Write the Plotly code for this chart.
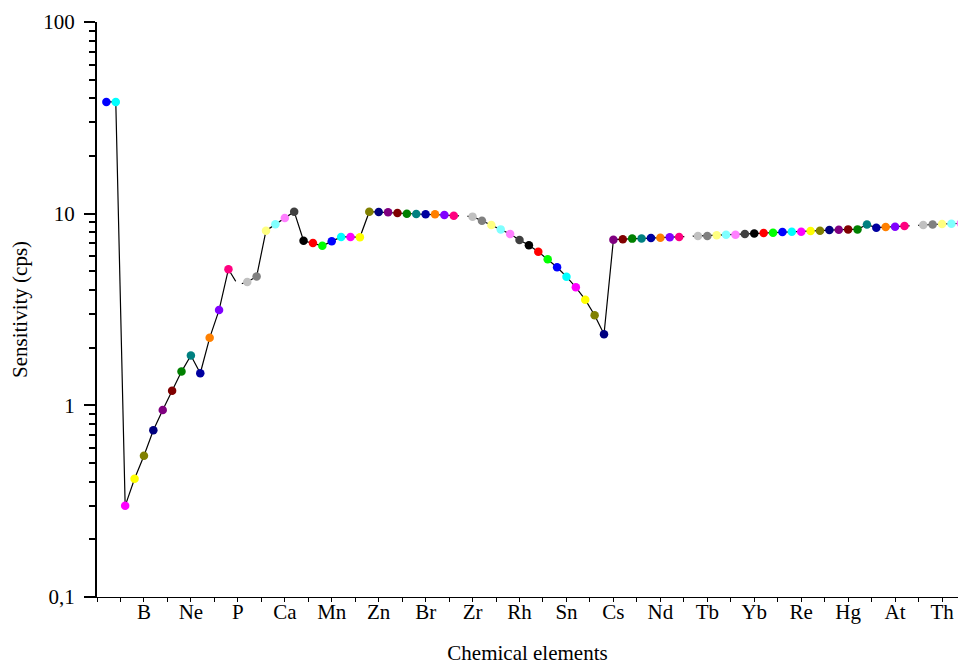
import plotly.graph_objects as go

elements = ["H","He","Li","Be","B","C","N","O","F","Ne","Na","Mg","Al","Si","P","S","Cl","Ar","K","Ca",
            "Sc","Ti","V","Cr","Mn","Fe","Co","Ni","Cu","Zn","Ga","Ge","As","Se","Br","Kr","Rb","Sr","Y","Zr",
            "Nb","Mo","Tc","Ru","Rh","Pd","Ag","Cd","In","Sn","Sb","Te","I","Xe","Cs","Ba","La","Ce","Pr","Nd",
            "Pm","Sm","Eu","Gd","Tb","Dy","Ho","Er","Tm","Yb","Lu","Hf","Ta","W","Re","Os","Ir","Pt","Au","Hg",
            "Tl","Pb","Bi","Po","At","Rn","Fr","Ra","Ac","Th","Pa","U"]
atomic_number = list(range(1, 93))
sensitivity = [38.3, 38.3, 0.299, 0.414, 0.546, 0.741, 0.946, 1.19, 1.50, 1.82,
               1.47, 2.25, 3.14, 5.13, 4.25, 4.40, 4.70, 8.15, 8.80, 9.49,
               10.24, 7.22, 7.03, 6.80, 7.17, 7.56, 7.56, 7.53, 10.24, 10.2,
               10.17, 10.08, 10.0, 9.96, 9.92, 9.92, 9.84, 9.76, 9.7, 9.65,
               9.19, 8.73, 8.28, 7.83, 7.29, 6.84, 6.33, 5.78, 5.25, 4.69,
               4.13, 3.56, 2.95, 2.35, 7.32, 7.36, 7.41, 7.43, 7.46, 7.49,
               7.53, 7.56, 7.6, 7.64, 7.64, 7.71, 7.76, 7.76, 7.83, 7.89,
               7.93, 7.96, 8.02, 8.05, 8.05, 8.12, 8.15, 8.22, 8.25, 8.28,
               8.28, 8.77, 8.45, 8.51, 8.55, 8.62, 8.68, 8.73, 8.77, 8.83,
               8.86, 8.9]

# Origin-style colour increment list (cycled per point)
palette = ["#000000", "#FF0000", "#00FF00", "#0000FF", "#00FFFF", "#FF00FF", "#FFFF00", "#808000",
           "#000080", "#800080", "#800000", "#008000", "#008080", "#0000A0", "#FF8000", "#8000FF",
           "#FF0080", "#FFFFFF", "#C0C0C0", "#808080", "#FFFF80", "#80FFFF", "#FF80FF", "#404040"]
colors = [palette[(n + 2) % len(palette)] for n in atomic_number]

tick_positions = [n for n in atomic_number if n % 5 == 0]
tick_labels = [elements[n - 1] for n in tick_positions]

FONT = "Liberation Serif, Times New Roman, serif"

fig = go.Figure()
fig.add_trace(go.Scatter(
    x=atomic_number, y=sensitivity, mode="lines+markers",
    text=elements,
    line=dict(color="black", width=1.2),
    marker=dict(size=8.5, color=colors, line=dict(width=0)),
    showlegend=False,
))

fig.update_layout(
    width=958, height=665,
    margin=dict(l=97, r=0, t=22, b=68),
    paper_bgcolor="white", plot_bgcolor="white",
    font=dict(family=FONT, size=21, color="black"),
)
fig.update_xaxes(
    range=[0, 91.7], showgrid=False, zeroline=False, automargin=False,
    showline=True, linecolor="black", linewidth=1,
    tickmode="array", tickvals=tick_positions, ticktext=tick_labels,
    ticks="outside", ticklen=4, tickwidth=1, tickcolor="black",
    ticklabelstandoff=-8,
    minor=dict(ticks="outside", ticklen=4, tickwidth=1, tickcolor="black", tick0=0, dtick=2.5, showgrid=False),
    title=dict(text="Chemical elements", standoff=32, font=dict(family=FONT, size=21)),
    tickfont=dict(family=FONT, size=21),
)
fig.update_yaxes(
    type="log", range=[-1, 2], showgrid=False, zeroline=False, automargin=False,
    showline=True, linecolor="black", linewidth=2,
    tickmode="array", tickvals=[0.1, 1, 10, 100], ticktext=["0,1", "1", "10", "100"],
    ticks="outside", ticklen=11, tickwidth=2, tickcolor="black",
    ticklabelstandoff=5,
    minor=dict(ticks="outside", ticklen=6, tickwidth=2, tickcolor="black", dtick="D1", showgrid=False),
    title=dict(text="Sensitivity (cps)", standoff=10, font=dict(family=FONT, size=21)),
    tickfont=dict(family=FONT, size=21),
)

fig.write_html("out.html", config={"displayModeBar": False},
               post_script="document.body.style.margin='0px';document.body.style.overflow='hidden';")
